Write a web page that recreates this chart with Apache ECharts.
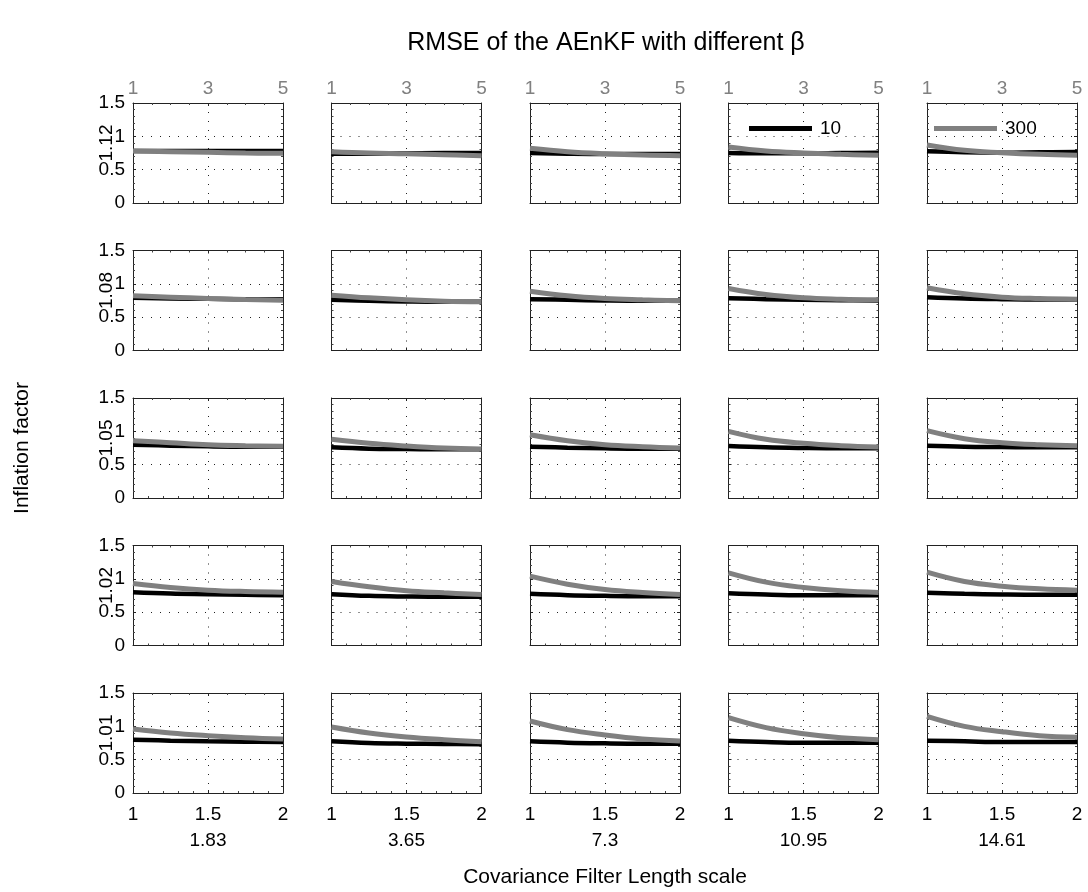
<!DOCTYPE html>
<html>
<head>
<meta charset="utf-8">
<title>RMSE of the AEnKF with different β</title>
<script src="https://cdn.jsdelivr.net/npm/echarts@6/dist/echarts.min.js"></script>
<style>
  html, body { margin: 0; padding: 0; background: #fff; }
  #chart { width: 1088px; height: 892px; }
</style>
</head>
<body>
<div id="chart"></div>
<script>
// Covariance filter length scales (panel columns) and inflation factors (panel rows)
const lengthScales = ['1.83', '3.65', '7.3', '10.95', '14.61'];
const inflationFactors = ['1.12', '1.08', '1.05', '1.02', '1.01'];
const betaNames = ['10', '300'];
const xPositions = [1, 1.25, 1.5, 1.75, 2];
const xTickLabels = ['1', '1.5', '2'];
const topTickLabels = ['1', '3', '5'];
const yTickLabels = ['0', '0.5', '1', '1.5'];

// RMSE, beta = 10; one row per inflation factor, one list per length scale
const beta10Infl112 = [
  [0.78, 0.78, 0.78, 0.78, 0.78],
  [0.74, 0.74, 0.745, 0.75, 0.75],
  [0.75, 0.74, 0.735, 0.735, 0.735],
  [0.75, 0.745, 0.745, 0.75, 0.755],
  [0.775, 0.76, 0.755, 0.76, 0.765]
];
const beta10Infl108 = [
  [0.79, 0.78, 0.775, 0.77, 0.77],
  [0.76, 0.745, 0.735, 0.73, 0.73],
  [0.77, 0.76, 0.75, 0.745, 0.745],
  [0.785, 0.77, 0.76, 0.755, 0.75],
  [0.8, 0.78, 0.77, 0.765, 0.765]
];
const beta10Infl105 = [
  [0.8, 0.785, 0.775, 0.77, 0.77],
  [0.76, 0.74, 0.735, 0.73, 0.73],
  [0.77, 0.755, 0.745, 0.74, 0.74],
  [0.78, 0.76, 0.75, 0.745, 0.745],
  [0.785, 0.77, 0.765, 0.76, 0.76]
];
const beta10Infl102 = [
  [0.8, 0.78, 0.77, 0.76, 0.755],
  [0.77, 0.745, 0.735, 0.73, 0.73],
  [0.775, 0.755, 0.745, 0.74, 0.74],
  [0.785, 0.765, 0.755, 0.755, 0.755],
  [0.79, 0.775, 0.765, 0.76, 0.76]
];
const beta10Infl101 = [
  [0.8, 0.785, 0.775, 0.77, 0.765],
  [0.775, 0.75, 0.74, 0.735, 0.73],
  [0.775, 0.755, 0.745, 0.74, 0.74],
  [0.785, 0.765, 0.755, 0.755, 0.755],
  [0.785, 0.775, 0.765, 0.765, 0.765]
];

// RMSE, beta = 300
const beta300Infl112 = [
  [0.78, 0.77, 0.76, 0.75, 0.745],
  [0.77, 0.75, 0.74, 0.725, 0.71],
  [0.82, 0.77, 0.74, 0.72, 0.71],
  [0.84, 0.78, 0.75, 0.73, 0.715],
  [0.87, 0.79, 0.755, 0.73, 0.715]
];
const beta300Infl108 = [
  [0.82, 0.8, 0.78, 0.765, 0.755],
  [0.83, 0.79, 0.76, 0.74, 0.73],
  [0.89, 0.82, 0.78, 0.76, 0.745],
  [0.93, 0.84, 0.79, 0.77, 0.76],
  [0.94, 0.85, 0.8, 0.78, 0.77]
];
const beta300Infl105 = [
  [0.86, 0.83, 0.8, 0.785, 0.775],
  [0.88, 0.82, 0.78, 0.75, 0.735],
  [0.95, 0.86, 0.8, 0.77, 0.75],
  [1.0, 0.88, 0.82, 0.785, 0.765],
  [1.01, 0.89, 0.83, 0.8, 0.785]
];
const beta300Infl102 = [
  [0.93, 0.87, 0.83, 0.81, 0.8],
  [0.96, 0.88, 0.82, 0.79, 0.765],
  [1.04, 0.92, 0.84, 0.795, 0.765],
  [1.09, 0.95, 0.87, 0.82, 0.795],
  [1.1, 0.96, 0.89, 0.85, 0.83]
];
const beta300Infl101 = [
  [0.96, 0.9, 0.86, 0.83, 0.81],
  [0.99, 0.9, 0.84, 0.8, 0.77],
  [1.08, 0.95, 0.87, 0.81, 0.78],
  [1.13, 0.98, 0.89, 0.83, 0.8],
  [1.15, 1.0, 0.92, 0.86, 0.835]
];

const beta10Rows = [beta10Infl112, beta10Infl108, beta10Infl105, beta10Infl102, beta10Infl101];
const beta300Rows = [beta300Infl112, beta300Infl108, beta300Infl105, beta300Infl102, beta300Infl101];

const FONT = '"Liberation Sans", Arial, Helvetica, sans-serif';
const TICK_SIZE = 19;
const BLACK = '#000000';
const GREY = '#808080';

// panel layout
const PANEL_LEFT = 133, PANEL_TOP = 103, PANEL_W = 150, PANEL_H = 100;
const COL_STEP = 198.5, ROW_STEP = 147.5;

const grids = [], xAxes = [], yAxes = [], series = [], graphics = [];
const dotted = { color: '#222', width: 1, type: [1, 8] };
const boxLine = { show: true, onZero: false, lineStyle: { color: '#222', width: 1 } };

for (let r = 0; r < inflationFactors.length; r++) {
  for (let c = 0; c < lengthScales.length; c++) {
    const g = grids.length;
    grids.push({
      left: PANEL_LEFT + c * COL_STEP,
      top: PANEL_TOP + r * ROW_STEP,
      width: PANEL_W,
      height: PANEL_H,
      containLabel: false
    });

    // bottom x axis: 1 .. 2
    xAxes.push({
      gridIndex: g, type: 'value', position: 'bottom',
      min: 1, max: 2, interval: 0.5,
      axisLine: boxLine,
      axisTick: { show: true, inside: true, length: 3, lineStyle: { color: '#222' } },
      minorTick: { show: true, splitNumber: 5, length: 2, lineStyle: { color: '#444' } },
      splitLine: { show: true, lineStyle: dotted },
      axisLabel: {
        show: r === inflationFactors.length - 1,
        fontFamily: FONT, fontSize: TICK_SIZE, color: BLACK, margin: 12,
        formatter: v => xTickLabels.find(t => Number(t) === v) || ''
      }
    });
    // top x axis: 1 .. 5
    xAxes.push({
      gridIndex: g, type: 'value', position: 'top',
      min: 1, max: 5, interval: 2,
      axisLine: boxLine,
      axisTick: { show: true, inside: true, length: 3, lineStyle: { color: '#222' } },
      minorTick: { show: true, splitNumber: 4, length: 2, lineStyle: { color: '#444' } },
      splitLine: { show: false },
      axisLabel: {
        show: r === 0,
        fontFamily: FONT, fontSize: TICK_SIZE, color: GREY, margin: 5,
        formatter: v => topTickLabels.find(t => Number(t) === v) || ''
      }
    });
    // left y axis: 0 .. 1.5
    yAxes.push({
      gridIndex: g, type: 'value', position: 'left',
      min: 0, max: 1.5, interval: 0.5,
      axisLine: boxLine,
      axisTick: { show: true, inside: true, length: 3, lineStyle: { color: '#222' } },
      minorTick: { show: true, splitNumber: 5, length: 2, lineStyle: { color: '#444' } },
      splitLine: { show: true, lineStyle: dotted },
      axisLabel: {
        show: c === 0,
        fontFamily: FONT, fontSize: TICK_SIZE, color: BLACK, margin: 8,
        formatter: v => yTickLabels.find(t => Number(t) === v) || ''
      }
    });
    // right y axis (closes the box)
    yAxes.push({
      gridIndex: g, type: 'value', position: 'right',
      min: 0, max: 1.5, interval: 0.5,
      axisLine: boxLine,
      axisTick: { show: true, inside: true, length: 3, lineStyle: { color: '#222' } },
      minorTick: { show: true, splitNumber: 5, length: 2, lineStyle: { color: '#444' } },
      splitLine: { show: false },
      axisLabel: { show: false }
    });

    const xi = 2 * g, yi = 2 * g;
    series.push({
      name: betaNames[0], type: 'line', xAxisIndex: xi, yAxisIndex: yi,
      data: beta10Rows[r][c].map((v, k) => [xPositions[k], v]),
      smooth: 0.4, showSymbol: false, symbol: 'none', silent: true,
      itemStyle: { color: BLACK },
      lineStyle: { color: BLACK, width: 4.5 },
      z: 3
    });
    series.push({
      name: betaNames[1], type: 'line', xAxisIndex: xi, yAxisIndex: yi,
      data: beta300Rows[r][c].map((v, k) => [xPositions[k], v]),
      smooth: 0.4, showSymbol: false, symbol: 'none', silent: true,
      itemStyle: { color: GREY },
      lineStyle: { color: GREY, width: 5 },
      z: 4
    });
  }
}

// title, row / column labels and axis titles
graphics.push({
  type: 'text', x: 606, y: 43,
  style: { text: 'RMSE of the AEnKF with different β', fontFamily: FONT, fontSize: 25,
           fill: BLACK, align: 'center', verticalAlign: 'middle' }
});
inflationFactors.forEach((lab, r) => {
  graphics.push({
    type: 'text', x: 107, y: PANEL_TOP + r * ROW_STEP + 40, rotation: Math.PI / 2,
    style: { text: lab, fontFamily: FONT, fontSize: TICK_SIZE, fill: BLACK,
             align: 'center', verticalAlign: 'middle' }
  });
});
lengthScales.forEach((lab, c) => {
  graphics.push({
    type: 'text', x: PANEL_LEFT + c * COL_STEP + PANEL_W / 2, y: 841,
    style: { text: lab, fontFamily: FONT, fontSize: TICK_SIZE, fill: BLACK,
             align: 'center', verticalAlign: 'middle' }
  });
});
graphics.push({
  type: 'text', x: 22, y: 448, rotation: Math.PI / 2,
  style: { text: 'Inflation factor', fontFamily: FONT, fontSize: 21, fill: BLACK,
           align: 'center', verticalAlign: 'middle' }
});
graphics.push({
  type: 'text', x: 605, y: 877,
  style: { text: 'Covariance Filter Length scale', fontFamily: FONT, fontSize: 21, fill: BLACK,
           align: 'center', verticalAlign: 'middle' }
});

const legendBase = {
  orient: 'horizontal', padding: 0, itemWidth: 63, itemHeight: 5, itemGap: 0,
  icon: 'rect', selectedMode: false,
  textStyle: { fontFamily: FONT, fontSize: TICK_SIZE, color: BLACK, padding: [0, 0, 0, 3] }
};

const chart = echarts.init(document.getElementById('chart'), null, { renderer: 'canvas' });
chart.setOption({
  animation: false,
  backgroundColor: '#ffffff',
  legend: [
    Object.assign({}, legendBase, { data: [{ name: betaNames[0], itemStyle: { color: BLACK } }], left: 749, top: 119 }),
    Object.assign({}, legendBase, { data: [{ name: betaNames[1], itemStyle: { color: GREY } }], left: 934, top: 119 })
  ],
  grid: grids,
  xAxis: xAxes,
  yAxis: yAxes,
  series: series,
  graphic: graphics
});
</script>
</body>
</html>
